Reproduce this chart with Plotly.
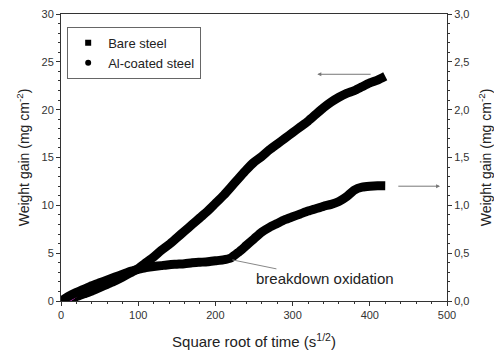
import plotly.graph_objects as go

# Bare steel (left axis, mg cm^-2)
bare_x = [0, 10, 20, 30, 40, 50, 60, 70, 80, 90, 100, 110, 120, 130, 140, 150, 160, 170, 180, 190,
          200, 210, 220, 230, 240, 250, 260, 270, 280, 290, 300, 310, 320, 330, 340, 350, 360, 370,
          380, 390, 400, 410, 420]
bare_y = [0, 0.2, 0.45, 0.75, 1.05, 1.4, 1.75, 2.1, 2.5, 2.95, 3.4, 4.0, 4.6, 5.3, 5.9, 6.6, 7.3, 8.0,
          8.7, 9.4, 10.2, 11.0, 11.9, 12.8, 13.7, 14.5, 15.1, 15.8, 16.4, 17.0, 17.6, 18.2, 18.8, 19.5,
          20.2, 20.8, 21.3, 21.7, 22.0, 22.4, 22.8, 23.1, 23.5]

# Al-coated steel (right axis, mg cm^-2)
al_x = [0, 10, 20, 30, 40, 50, 60, 70, 80, 90, 100, 110, 120, 130, 140, 150, 160, 170, 180, 190,
        200, 210, 220, 230, 240, 250, 260, 270, 280, 290, 300, 310, 320, 330, 340, 350, 360, 370,
        380, 390, 400, 410, 420]
al_y = [0, 0.05, 0.09, 0.125, 0.16, 0.19, 0.22, 0.25, 0.28, 0.31, 0.33, 0.35, 0.36, 0.37, 0.38,
        0.385, 0.39, 0.40, 0.405, 0.41, 0.42, 0.43, 0.45, 0.51, 0.58, 0.65, 0.72, 0.77, 0.81, 0.85,
        0.88, 0.91, 0.94, 0.965, 0.99, 1.01, 1.04, 1.09, 1.16, 1.19, 1.20, 1.205, 1.205]

# small early-time points near the origin
early_x = [4, 8, 12, 15, 18]
early_y = [0.05, 0.15, 0.3, 0.45, 0.65]

legend_names = ["Bare steel", "Al-coated steel"]
x_ticks = [0, 100, 200, 300, 400, 500]

FONT = "Liberation Sans, Arial, sans-serif"

fig = go.Figure()
fig.add_trace(go.Scatter(x=bare_x, y=bare_y, mode="lines",
                         line=dict(color="black", width=9, shape="spline", smoothing=0.6),
                         showlegend=False))
fig.add_trace(go.Scatter(x=al_x, y=al_y, mode="lines", yaxis="y2",
                         line=dict(color="black", width=9, shape="spline", smoothing=0.6),
                         showlegend=False))
fig.add_trace(go.Scatter(x=early_x, y=early_y, mode="markers",
                         marker=dict(symbol="circle-open", size=5, color="#cc33cc", line=dict(width=1)),
                         showlegend=False))
fig.add_trace(go.Scatter(x=[None], y=[None], mode="markers", name=legend_names[0],
                         marker=dict(symbol="square", size=6, color="black")))
fig.add_trace(go.Scatter(x=[None], y=[None], mode="markers", name=legend_names[1],
                         marker=dict(symbol="circle", size=6, color="black")))

axis_common = dict(showline=True, linecolor="#333", linewidth=1, ticks="outside", ticklen=4,
                   tickcolor="#333", showgrid=False, zeroline=False, automargin=False,
                   tickfont=dict(family=FONT, size=11, color="#333"))

fig.update_layout(
    width=494, height=353,
    margin=dict(l=61, r=47, t=14, b=52, autoexpand=False),
    paper_bgcolor="white", plot_bgcolor="white",
    separators=", ",
    font=dict(family=FONT, color="#222"),
    xaxis=dict(range=[0, 500], tickvals=x_ticks, mirror=True,
               minor=dict(dtick=20, ticks="outside", ticklen=2, tickcolor="#333"),
               title=dict(text="Square root of time (s<sup>1/2</sup>)", font=dict(size=15, family=FONT), standoff=16),
               **axis_common),
    yaxis=dict(range=[0, 30], dtick=5,
               minor=dict(dtick=1, ticks="outside", ticklen=2, tickcolor="#333"),
               title=dict(text="Weight gain (mg cm<sup>-2</sup>)", font=dict(size=14, family=FONT), standoff=8),
               **axis_common),
    yaxis2=dict(range=[0, 3], dtick=0.5, tickformat=".1f", overlaying="y", side="right",
                minor=dict(dtick=0.1, ticks="outside", ticklen=2, tickcolor="#333"),
                title=dict(text="Weight gain (mg cm<sup>-2</sup>)", font=dict(size=14, family=FONT), standoff=14),
                **axis_common),
    legend=dict(x=0.016, y=0.955, xanchor="left", yanchor="top",
                bordercolor="#666", borderwidth=1, bgcolor="white",
                font=dict(family=FONT, size=13, color="#222"), itemwidth=30, tracegroupgap=0),
    annotations=[
        dict(x=332, y=23.7, ax=403, ay=23.7, xref="x", yref="y", axref="x", ayref="y",
             text="", showarrow=True, arrowhead=2, arrowsize=0.8, arrowwidth=1, arrowcolor="#777"),
        dict(x=491, y=12.0, ax=435, ay=12.0, xref="x", yref="y", axref="x", ayref="y",
             text="", showarrow=True, arrowhead=2, arrowsize=0.8, arrowwidth=1, arrowcolor="#777"),
        dict(x=222, y=4.3, xref="x", yref="y", ax=93, ay=19,
             text="breakdown oxidation", showarrow=True, arrowhead=0, arrowwidth=1, arrowcolor="#888",
             font=dict(family=FONT, size=15, color="#222")),
    ],
)

fig.write_html("out.html")
